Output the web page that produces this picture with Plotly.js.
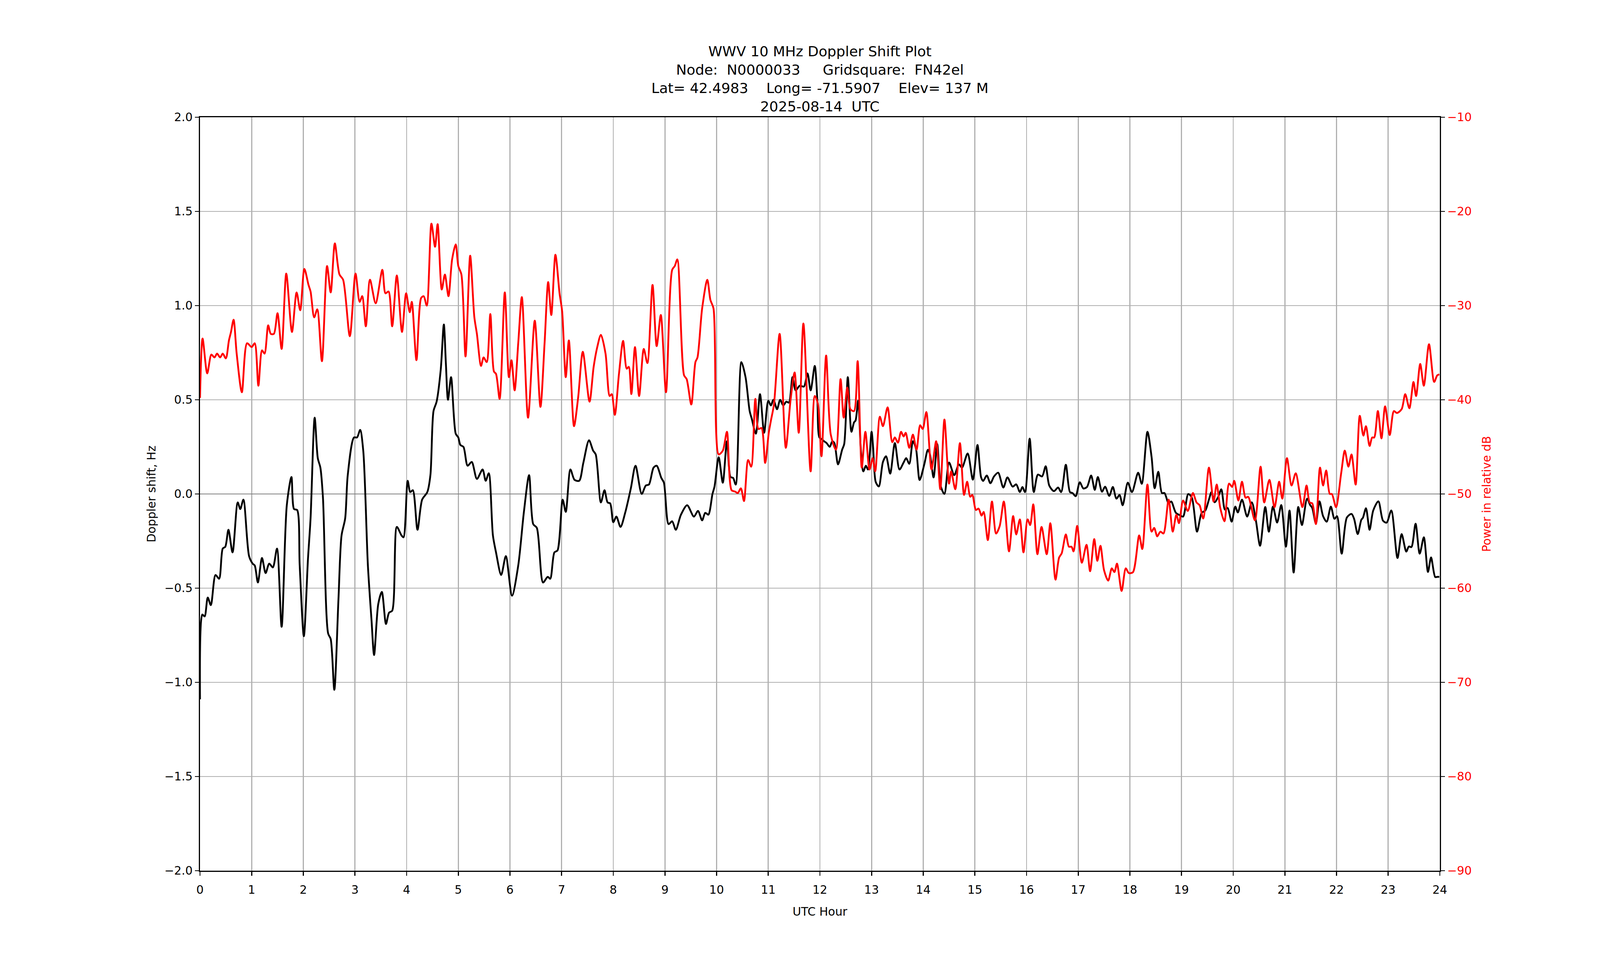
<!DOCTYPE html>
<html>
<head>
<meta charset="utf-8">
<script src="https://cdn.plot.ly/plotly-3.0.1.min.js"></script>
<style>html,body{margin:0;padding:0;background:#fff;overflow:hidden}</style>
</head>
<body>
<div id="chart"></div>
<script>
// Doppler shift series (UTC hour, Hz)
var dopplerHours = [0.0,0.045,0.09,0.15,0.21,0.30,0.37,0.44,0.49,0.55,0.63,0.73,0.78,0.84,0.95,1.02,1.06,1.12,1.20,1.27,1.34,1.41,1.49,1.58,1.68,1.77,1.82,1.88,1.93,2.01,2.09,2.14,2.22,2.28,2.33,2.38,2.48,2.53,2.60,2.68,2.74,2.81,2.86,2.98,3.04,3.10,3.16,3.25,3.32,3.37,3.45,3.52,3.60,3.66,3.72,3.81,3.90,3.94,4.02,4.07,4.12,4.21,4.30,4.40,4.46,4.52,4.58,4.66,4.72,4.76,4.80,4.86,4.95,5.00,5.04,5.10,5.18,5.26,5.36,5.47,5.53,5.59,5.67,5.73,5.83,5.92,6.04,6.16,6.27,6.37,6.45,6.52,6.64,6.73,6.78,6.86,6.92,7.02,7.08,7.17,7.25,7.34,7.42,7.53,7.61,7.66,7.76,7.83,7.89,7.94,8.00,8.06,8.14,8.23,8.34,8.43,8.55,8.63,8.69,8.78,8.84,8.93,8.98,9.07,9.14,9.21,9.31,9.43,9.56,9.64,9.72,9.78,9.84,9.92,9.96,10.04,10.12,10.20,10.27,10.32,10.37,10.48,10.56,10.64,10.68,10.76,10.84,10.92,11.00,11.05,11.10,11.17,11.23,11.29,11.35,11.40,11.47,11.53,11.61,11.69,11.76,11.82,11.90,11.95,11.99,12.04,12.08,12.13,12.19,12.24,12.28,12.35,12.43,12.47,12.54,12.61,12.66,12.69,12.74,12.79,12.84,12.89,12.93,13.00,13.03,13.08,13.14,13.22,13.28,13.36,13.45,13.54,13.62,13.67,13.73,13.80,13.86,13.93,14.02,14.09,14.13,14.20,14.27,14.34,14.41,14.50,14.60,14.69,14.75,14.86,14.96,15.05,15.12,15.16,15.23,15.30,15.37,15.45,15.55,15.63,15.73,15.80,15.87,15.92,15.97,16.06,16.14,16.22,16.30,16.37,16.44,16.53,16.61,16.67,16.76,16.84,16.89,16.95,17.03,17.10,17.17,17.25,17.32,17.38,17.46,17.52,17.60,17.67,17.74,17.80,17.86,17.96,18.04,18.16,18.23,18.34,18.42,18.48,18.55,18.62,18.67,18.75,18.80,18.89,18.97,19.03,19.13,19.20,19.30,19.39,19.46,19.53,19.58,19.64,19.71,19.77,19.84,19.89,19.97,20.04,20.09,20.17,20.27,20.36,20.44,20.52,20.62,20.69,20.77,20.85,20.93,21.02,21.09,21.17,21.26,21.33,21.43,21.49,21.53,21.60,21.67,21.74,21.81,21.89,21.96,22.01,22.10,22.20,22.29,22.34,22.41,22.48,22.51,22.57,22.64,22.71,22.81,22.90,22.97,23.06,23.18,23.26,23.35,23.40,23.45,23.53,23.61,23.69,23.77,23.83,23.91,23.95,23.99];
var dopplerHz = [-1.09,-0.64,-0.65,-0.55,-0.59,-0.43,-0.45,-0.29,-0.28,-0.19,-0.31,-0.045,-0.08,-0.03,-0.33,-0.37,-0.38,-0.47,-0.34,-0.42,-0.37,-0.39,-0.29,-0.705,-0.06,0.09,-0.08,-0.085,-0.38,-0.755,-0.345,-0.13,0.405,0.19,0.14,-0.02,-0.74,-0.77,-1.04,-0.56,-0.22,-0.13,0.10,0.30,0.30,0.34,0.23,-0.38,-0.67,-0.855,-0.585,-0.52,-0.69,-0.63,-0.62,-0.175,-0.22,-0.23,0.07,0.01,0.02,-0.19,-0.03,0.01,0.10,0.44,0.49,0.66,0.90,0.69,0.50,0.62,0.32,0.30,0.26,0.25,0.15,0.17,0.08,0.13,0.07,0.11,-0.22,-0.31,-0.43,-0.33,-0.54,-0.38,-0.095,0.10,-0.16,-0.18,-0.47,-0.44,-0.45,-0.31,-0.30,-0.03,-0.095,0.13,0.075,0.07,0.165,0.285,0.23,0.21,-0.045,0.02,-0.045,-0.05,-0.15,-0.12,-0.175,-0.10,0.03,0.15,0.0,0.045,0.05,0.14,0.15,0.085,0.06,-0.16,-0.145,-0.19,-0.11,-0.06,-0.12,-0.09,-0.14,-0.10,-0.11,0.0,0.04,0.195,0.06,0.28,0.09,0.085,0.05,0.70,0.62,0.44,0.40,0.32,0.53,0.325,0.495,0.47,0.50,0.45,0.50,0.47,0.49,0.485,0.62,0.55,0.575,0.57,0.64,0.55,0.68,0.50,0.30,0.29,0.28,0.27,0.25,0.28,0.27,0.157,0.235,0.265,0.62,0.33,0.38,0.39,0.495,0.245,0.12,0.15,0.13,0.33,0.245,0.064,0.04,0.17,0.20,0.108,0.27,0.13,0.167,0.19,0.16,0.28,0.24,0.074,0.157,0.235,0.21,0.088,0.265,0.04,0.0,0.167,0.10,0.157,0.14,0.215,0.076,0.26,0.088,0.069,0.098,0.057,0.093,0.113,0.034,0.088,0.039,0.051,0.01,0.037,0.01,0.294,0.01,0.103,0.093,0.147,0.044,0.015,0.034,0.01,0.155,0.01,0.005,-0.012,0.062,0.029,0.037,0.098,0.022,0.09,0.012,0.039,-0.01,0.037,-0.025,-0.005,-0.06,0.06,0.01,0.113,0.054,0.33,0.196,0.03,0.118,0.005,0.005,-0.05,-0.04,-0.10,-0.113,-0.12,0.0,-0.02,-0.20,-0.10,-0.088,-0.03,0.01,-0.044,-0.015,0.025,-0.083,-0.074,-0.147,-0.067,-0.098,-0.03,-0.12,-0.044,-0.142,-0.275,-0.069,-0.20,-0.067,-0.152,-0.059,-0.28,-0.088,-0.417,-0.069,-0.165,-0.025,-0.059,-0.074,-0.157,-0.039,-0.118,-0.147,-0.067,-0.132,-0.118,-0.317,-0.125,-0.106,-0.132,-0.213,-0.137,-0.127,-0.076,-0.19,-0.088,-0.039,-0.142,-0.152,-0.088,-0.34,-0.213,-0.306,-0.279,-0.282,-0.158,-0.317,-0.23,-0.414,-0.337,-0.441,-0.44,-0.44];

// Received power series (UTC hour, relative dB)
var powerHours = [0.0,0.05,0.14,0.22,0.28,0.33,0.39,0.44,0.50,0.56,0.60,0.65,0.71,0.81,0.91,1.00,1.06,1.13,1.20,1.25,1.32,1.37,1.43,1.50,1.58,1.67,1.78,1.87,1.94,2.02,2.10,2.14,2.21,2.27,2.36,2.46,2.53,2.61,2.70,2.77,2.90,3.01,3.09,3.14,3.21,3.29,3.40,3.53,3.59,3.65,3.72,3.81,3.91,3.99,4.06,4.10,4.19,4.28,4.33,4.39,4.48,4.55,4.60,4.68,4.74,4.81,4.88,4.95,5.00,5.06,5.14,5.23,5.31,5.36,5.44,5.49,5.55,5.62,5.69,5.73,5.80,5.90,5.98,6.03,6.09,6.16,6.23,6.35,6.48,6.59,6.67,6.74,6.80,6.88,6.96,7.01,7.08,7.14,7.24,7.32,7.41,7.54,7.62,7.69,7.76,7.85,7.93,7.97,8.03,8.11,8.19,8.26,8.30,8.35,8.42,8.50,8.59,8.66,8.76,8.84,8.92,9.02,9.14,9.19,9.24,9.37,9.42,9.51,9.59,9.63,9.72,9.82,9.88,9.94,10.04,10.12,10.20,10.29,10.36,10.41,10.47,10.53,10.61,10.67,10.75,10.81,10.87,10.94,11.01,11.05,11.11,11.22,11.34,11.43,11.51,11.59,11.68,11.82,11.90,11.96,12.03,12.12,12.21,12.31,12.40,12.46,12.53,12.59,12.66,12.73,12.81,12.88,12.96,13.02,13.07,13.16,13.22,13.31,13.40,13.45,13.51,13.57,13.62,13.66,13.73,13.80,13.87,13.94,13.99,14.06,14.16,14.25,14.33,14.41,14.50,14.54,14.62,14.71,14.79,14.85,14.91,14.95,15.02,15.07,15.13,15.17,15.25,15.33,15.41,15.48,15.56,15.66,15.74,15.80,15.87,15.94,16.02,16.07,16.13,16.21,16.29,16.39,16.46,16.56,16.63,16.68,16.76,16.82,16.87,16.91,16.98,17.07,17.16,17.23,17.31,17.37,17.43,17.50,17.58,17.65,17.70,17.75,17.84,17.92,17.98,18.06,18.18,18.24,18.34,18.42,18.47,18.53,18.59,18.65,18.75,18.83,18.90,18.95,19.03,19.12,19.22,19.29,19.35,19.42,19.53,19.62,19.68,19.75,19.83,19.92,19.98,20.02,20.10,20.17,20.24,20.29,20.42,20.53,20.60,20.70,20.80,20.89,20.95,21.04,21.13,21.21,21.34,21.42,21.48,21.53,21.60,21.68,21.74,21.80,21.87,21.91,21.99,22.09,22.16,22.23,22.29,22.37,22.45,22.52,22.57,22.64,22.69,22.73,22.80,22.87,22.94,23.03,23.11,23.17,23.26,23.33,23.41,23.49,23.54,23.62,23.69,23.79,23.89,23.95,23.99];
var powerDb = [-39.8,-33.5,-37.2,-35.2,-35.5,-35.1,-35.5,-35.1,-35.6,-33.7,-32.8,-31.5,-35.1,-39.2,-34.0,-34.4,-34.0,-38.5,-34.75,-35.1,-32.1,-33.0,-33.0,-30.8,-34.6,-26.6,-32.8,-28.6,-30.5,-26.1,-27.8,-28.5,-31.25,-30.4,-35.9,-25.8,-28.6,-23.4,-26.7,-27.25,-33.25,-26.6,-29.6,-29.0,-32.2,-27.25,-29.75,-26.2,-28.7,-28.5,-32.2,-26.8,-32.8,-28.7,-30.7,-29.6,-35.8,-29.2,-29.0,-30.0,-21.3,-23.75,-21.35,-28.3,-26.7,-29.0,-25.1,-23.5,-25.8,-26.7,-35.4,-24.7,-31.2,-33.0,-36.4,-35.5,-36.0,-30.9,-37.0,-37.25,-39.9,-28.6,-37.6,-35.8,-39.0,-34.0,-29.1,-41.9,-31.6,-40.75,-34.0,-27.5,-31.0,-24.6,-28.7,-30.6,-37.6,-33.7,-42.8,-39.75,-34.9,-40.2,-36.5,-34.4,-33.1,-35.1,-39.6,-39.4,-41.6,-37.25,-33.75,-36.7,-36.5,-39.4,-34.4,-39.6,-34.6,-36.1,-27.8,-34.3,-31.0,-39.2,-26.2,-25.8,-25.1,-37.4,-37.8,-40.5,-36.0,-35.5,-30.3,-27.25,-29.4,-30.3,-45.8,-45.4,-43.4,-49.6,-49.75,-49.9,-49.4,-50.75,-46.4,-47.1,-39.9,-43.1,-43.0,-46.7,-43.5,-42.25,-40.5,-33.0,-45.1,-40.1,-37.1,-43.5,-31.9,-47.6,-39.6,-40.4,-46.0,-35.3,-43.7,-45.3,-37.8,-41.9,-38.7,-41.0,-41.2,-35.9,-47.2,-43.4,-47.4,-46.2,-47.6,-41.8,-42.8,-40.8,-44.5,-44.0,-44.55,-43.4,-43.9,-43.5,-45.1,-43.7,-45.3,-42.7,-43.1,-41.3,-47.4,-44.4,-49.5,-42.1,-48.9,-47.6,-49.5,-44.6,-50.1,-48.7,-50.3,-50.1,-51.7,-51.55,-52.3,-51.9,-54.9,-50.8,-54.2,-53.4,-50.8,-56.1,-52.35,-54.3,-52.7,-56.2,-52.7,-53.3,-51.1,-56.4,-53.5,-56.4,-53.1,-59.1,-56.75,-56.3,-54.3,-55.6,-55.6,-56.1,-53.4,-57.3,-55.4,-58.2,-54.8,-57.1,-55.5,-58.1,-59.2,-57.9,-58.3,-57.4,-60.3,-57.9,-58.4,-58.3,-54.4,-55.85,-49.0,-54.0,-53.6,-54.5,-54.0,-54.2,-50.6,-54.0,-52.2,-53.1,-50.7,-51.8,-49.9,-50.9,-51.2,-52.6,-47.2,-50.8,-49.0,-51.5,-52.9,-48.9,-49.25,-48.6,-50.7,-48.7,-50.4,-50.3,-52.8,-47.1,-50.9,-48.5,-51.4,-48.7,-50.5,-46.2,-49.1,-47.8,-51.4,-49.1,-50.9,-51.0,-53.2,-47.2,-49.1,-47.5,-50.0,-50.0,-51.4,-47.8,-45.4,-47.1,-45.8,-49.0,-41.7,-43.8,-42.8,-44.9,-44.0,-44.0,-41.2,-44.1,-40.7,-43.75,-41.2,-41.4,-41.0,-39.4,-40.9,-38.1,-39.6,-36.2,-38.5,-34.1,-38.1,-37.4,-37.3];

var titleLines = [
  "WWV 10 MHz Doppler Shift Plot",
  "Node:  N0000033     Gridsquare:  FN42el",
  "Lat= 42.4983    Long= -71.5907    Elev= 137 M",
  "2025-08-14  UTC"
];
var xLabel = "UTC Hour";
var yLabel = "Doppler shift, Hz";
var y2Label = "Power in relative dB";

// Fit the figure to the real viewport (designed for 4750 x 2500)
var W = window.innerWidth || document.documentElement.clientWidth || 4750;
var H = window.innerHeight || document.documentElement.clientHeight || 2500;
if (W < 200) W = 4750;
if (H < 200) H = 2500;
var kx = W / 4750, ky = H / 2500, k = Math.sqrt(kx * ky);
var el = document.getElementById("chart");
el.style.width = W + "px";
el.style.height = H + "px";

var FONT = "DejaVu Sans, Liberation Sans, sans-serif";
function nb(s){ return s.replace(/ /g, "\u00A0"); }

var traces = [
  {x: dopplerHours, y: dopplerHz, type: "scatter", mode: "lines",
   line: {color: "#000000", width: 5 * k, shape: "spline", smoothing: 0.8},
   xaxis: "x", yaxis: "y", hoverinfo: "skip"},
  {x: powerHours, y: powerDb, type: "scatter", mode: "lines",
   line: {color: "#ff0000", width: 5 * k, shape: "spline", smoothing: 0.8},
   xaxis: "x", yaxis: "y2", hoverinfo: "skip"}
];

var fs = 32 * k;
var axisCommon = {
  showline: true, linecolor: "#000000", linewidth: 3 * k,
  ticks: "outside", ticklen: 11 * k, tickwidth: 3 * k, tickcolor: "#000000",
  tickfont: {family: FONT, size: fs, color: "#000000"}
};

var layout = {
  width: W, height: H,
  paper_bgcolor: "#ffffff", plot_bgcolor: "#ffffff",
  showlegend: false,
  margin: {l: 594 * kx, r: 475 * kx, t: 300 * ky, b: 272 * ky, pad: 0},
  font: {family: FONT, size: fs, color: "#000000"},
  title: {
    text: titleLines.map(nb).join("<br>"),
    font: {family: FONT, size: 39 * k, color: "#000000"},
    xref: "paper", x: 0.5, xanchor: "center",
    yref: "container", y: 0.9425, yanchor: "top"
  },
  xaxis: Object.assign({}, axisCommon, {
    range: [0, 24], tick0: 0, dtick: 1, mirror: true,
    showgrid: true, gridcolor: "#b0b0b0", gridwidth: 2.7 * k, zeroline: false,
    ticklabelstandoff: 10 * ky,
    title: {text: xLabel, font: {family: FONT, size: fs, color: "#000000"}, standoff: 30 * ky}
  }),
  yaxis: Object.assign({}, axisCommon, {
    range: [-2, 2], tick0: -2, dtick: 0.5, tickformat: ".1f",
    showgrid: true, gridcolor: "#b0b0b0", gridwidth: 2.7 * k,
    zeroline: true, zerolinecolor: "#808080", zerolinewidth: 2.7 * k,
    ticklabelstandoff: 6 * kx,
    title: {text: yLabel, font: {family: FONT, size: fs, color: "#000000"}, standoff: 16 * kx}
  }),
  yaxis2: Object.assign({}, axisCommon, {
    overlaying: "y", side: "right", anchor: "x",
    range: [-90, -10], tick0: -90, dtick: 10,
    showgrid: false, zeroline: false,
    ticklabelstandoff: 4 * kx,
    tickfont: {family: FONT, size: fs, color: "#ff0000"},
    title: {text: y2Label, font: {family: FONT, size: fs, color: "#ff0000"}, standoff: 34 * kx}
  })
};

Plotly.newPlot("chart", traces, layout, {staticPlot: true, displayModeBar: false});
</script>
</body>
</html>
